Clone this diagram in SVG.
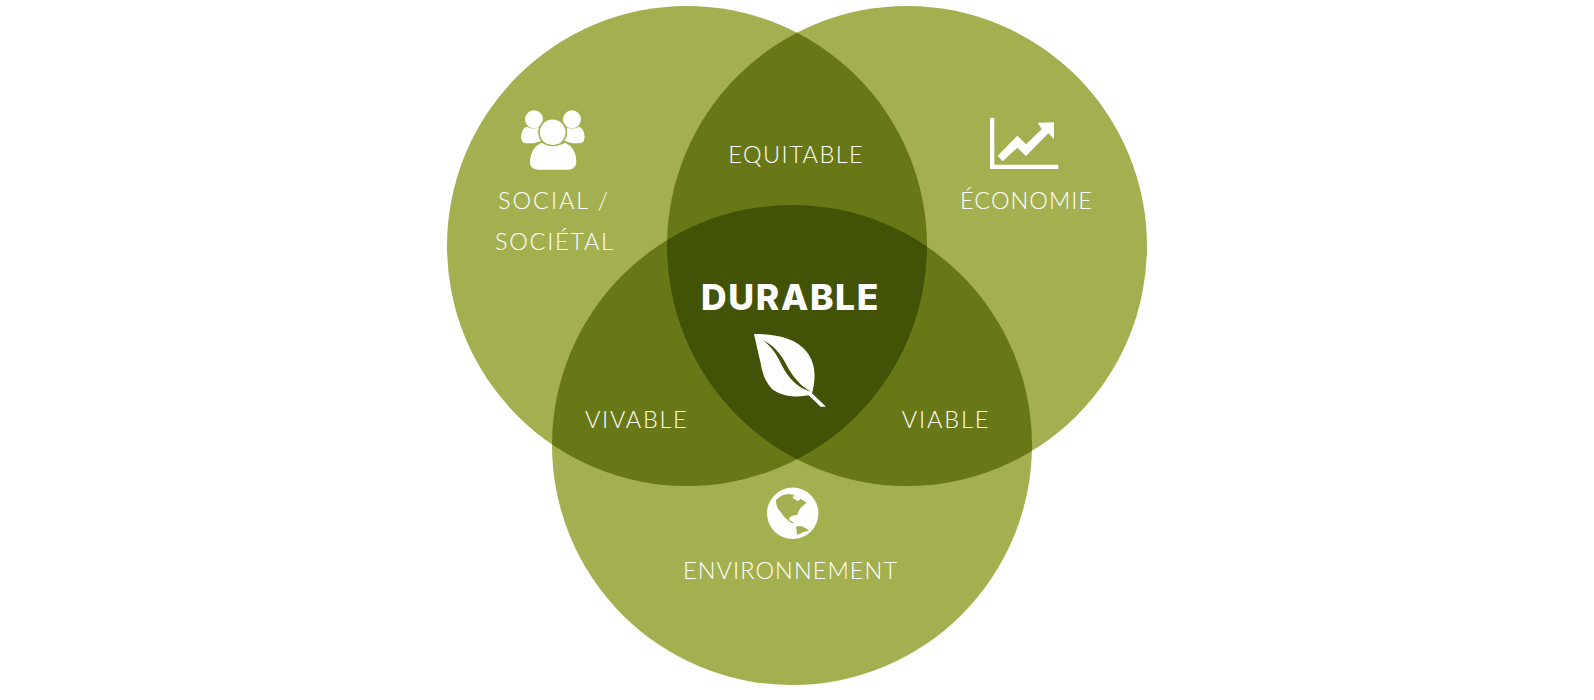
<svg xmlns="http://www.w3.org/2000/svg" width="1594" height="700" viewBox="0 0 1594 700">
<style>
.base{fill:#a4b04f}
.two{fill:#697817}
.three{fill:#425207}
.t{font-family:"Lato","Liberation Sans",sans-serif;font-weight:300;font-size:23.500px;fill:#fff}
.d{font-family:"Inter","Liberation Sans",sans-serif;font-weight:800;font-size:35.500px;fill:#fff}
.w{fill:#fff}
</style>
<defs>
<circle id="a" cx="687" cy="246" r="240"/>
<circle id="b" cx="907" cy="246" r="240"/>
<circle id="c" cx="792" cy="445" r="240"/>
<clipPath id="ca"><use href="#a"/></clipPath>
<clipPath id="cb"><use href="#b"/></clipPath>
</defs>
<rect width="1594" height="700" fill="#fff"/>
<g id="circles">
<use href="#a" class="base"/><use href="#b" class="base"/><use href="#c" class="base"/>
<g clip-path="url(#ca)"><use href="#b" class="two"/><use href="#c" class="two"/></g>
<g clip-path="url(#cb)"><use href="#c" class="two"/></g>
<g clip-path="url(#ca)"><g clip-path="url(#cb)"><use href="#c" class="three"/></g></g>
</g>
<g id="node-social">
<g transform="translate(480 90) scale(.3333)">
<path class="w" d="M140 110Q160 120 178 112Q172 140 186 152Q165 158 160 160H138Q123 158 123 140Q125 115 140 110Z"/>
<path class="w" d="M297 110Q277 120 259 112Q265 140 251 152Q272 158 277 160H299Q314 158 314 140Q312 115 297 110Z"/>
<circle class="w" cx="162" cy="88" r="27"/><circle class="w" cx="276" cy="88" r="27"/>
<circle class="w" cx="218" cy="127" r="41" stroke="#a4b04f" stroke-width="5"/>
<path class="w" stroke="#a4b04f" stroke-width="4" d="M148 213Q150 172 185 156Q218 178 255 156Q290 172 291 213Q291 241 265 241H175Q147 241 148 213Z"/>
</g>
<text class="t" x="498" y="209" textLength="110">SOCIAL /</text>
<text class="t" x="495" y="250" textLength="118">SOCIÉTAL</text>
</g>
<g id="node-economie">
<path class="w" d="M990 117.700h4.300v47h64v4.300h-68.300z"/>
<path class="w" d="M997.700 155.700L1017.300 135.700L1026 144.300L1041.700 129.300L1037.700 122.700L1054 122.300V139L1048.300 133.300L1026 156L1017.300 147.700L1002.700 161.300z"/>
<text class="t" x="960" y="209" textLength="132">ÉCONOMIE</text>
</g>
<g id="node-environnement">
<circle class="w" cx="792.700" cy="513.300" r="25.700"/>
<g transform="translate(670 480) scale(.3333)">
<path class="base" d="M318 60Q335 42 355 42L372 44L368 54L384 64L392 56L410 68L398 78Q386 88 382 104L365 108Q356 112 358 120L372 128L366 130Q346 118 332 96Q318 84 318 60Z"/>
<path class="base" d="M378 140Q396 132 417 152L398 157L382 165Z"/>
</g>
<text class="t" x="683" y="578.700" textLength="214">ENVIRONNEMENT</text>
</g>
<g id="node-equitable"><text class="t" x="728.300" y="163.300" textLength="134.400">EQUITABLE</text></g>
<g id="node-vivable"><text class="t" x="585" y="428" textLength="101.700">VIVABLE</text></g>
<g id="node-viable"><text class="t" x="901.700" y="428" textLength="86.600">VIABLE</text></g>
<g id="node-durable">
<text class="d" x="701" y="310" textLength="177.500">DURABLE</text>
<g transform="translate(570 130) scale(.3333)">
<path class="w" d="M552 612C620 612 680 625 710 665C735 695 740 740 726 790L768 830H752L716 796C680 803 640 800 610 780C590 762 578 735 572 700Z"/>
<path class="three" d="M578 630C620 650 640 685 655 715C672 745 695 770 722 785C685 775 655 745 635 705C620 672 605 650 578 630Z"/>
</g>
</g>
<g id="connectors"/>
</svg>
